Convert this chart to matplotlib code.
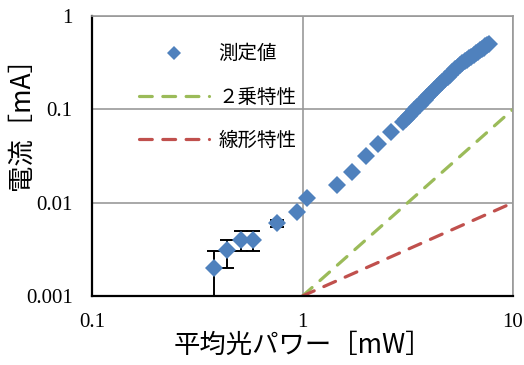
import numpy as np
import matplotlib
matplotlib.use("Agg")
import matplotlib.pyplot as plt

plt.rcParams['font.family'] = ['Liberation Serif', 'Noto Sans CJK JP', 'DejaVu Sans']

# measured values (power [mW], current [mA])
power = [0.38, 0.44, 0.51, 0.585, 0.76, 0.94, 1.05, 1.46, 1.71, 2.0, 2.29, 2.63,
         3.0, 3.1, 3.2, 3.3, 3.4, 3.5, 3.6, 3.7, 3.8, 3.9, 4.0, 4.1, 4.2,
         4.35, 4.5, 4.6, 4.75, 4.9, 5.0, 5.15, 5.3, 5.45, 5.6, 5.75, 5.9,
         6.05, 6.2, 6.35, 6.5, 6.65, 6.8, 6.95, 7.1, 7.25, 7.4, 7.55, 7.7]
current = [0.002, 0.0031, 0.004, 0.004, 0.006, 0.008, 0.0111, 0.0154, 0.0211, 0.0316, 0.0425, 0.0575,
           0.0736, 0.0794, 0.0855, 0.0918, 0.0983, 0.105, 0.112, 0.119, 0.127, 0.135, 0.143, 0.151, 0.160,
           0.172, 0.186, 0.195, 0.210, 0.225, 0.236, 0.252, 0.268, 0.286, 0.299, 0.313, 0.326,
           0.340, 0.354, 0.368, 0.383, 0.398, 0.413, 0.428, 0.443, 0.459, 0.475, 0.491, 0.507]
# error bars (first points only)
err_x = [0.38, 0.44, 0.51, 0.585, 0.76]
err_y = [0.002, 0.0031, 0.004, 0.004, 0.006]
err_lo = [0.001, 0.0011, 0.001, 0.001, 0.0005]
err_hi = [0.001, 0.0009, 0.001, 0.001, 0.0005]

# reference characteristics
ref_x = [1, 10]
square_y = [0.001, 0.1]
linear_y = [0.001, 0.01]

blue = '#4f81bd'
green = '#9bbb59'
red = '#c0504d'

fig = plt.figure(figsize=(5.24, 3.65), dpi=100)
ax = fig.add_axes([0.1756, 0.189, 0.8034, 0.767])

ax.errorbar(err_x, err_y, yerr=[err_lo, err_hi], fmt='none', ecolor='black',
            elinewidth=1.4, capsize=5, capthick=1.4, zorder=2)
ax.plot(power, current, 'D', color=blue, ms=9.5, mew=0,
        label='測定値', zorder=3)
ax.plot(ref_x, square_y, color=green, lw=2.3, ls=(0, (4, 3.3)), dash_capstyle='round',
        label='２乗特性', zorder=2.5)
ax.plot(ref_x, linear_y, color=red, lw=2.3, ls=(0, (4, 3.3)), dash_capstyle='round',
        label='線形特性', zorder=2.5)

ax.set_xscale('log')
ax.set_yscale('log')
ax.set_xlim(0.1, 10)
ax.set_ylim(0.001, 1)
ax.set_xticks([0.1, 1, 10])
ax.set_xticklabels(['0.1', '1', '10'])
ax.set_yticks([0.001, 0.01, 0.1, 1])
ax.set_yticklabels(['0.001', '0.01', '0.1', '1'])
ax.minorticks_off()
ax.tick_params(axis='y', length=0, labelsize=15, pad=14)
ax.tick_params(axis='x', length=0, labelsize=15, pad=12)
ax.grid(True, color='#999999', lw=1.2)
ax.set_axisbelow(True)

for s in ['top', 'right']:
    ax.spines[s].set_color('#999999')
    ax.spines[s].set_linewidth(1.2)
for s in ['left', 'bottom']:
    ax.spines[s].set_color('black')
    ax.spines[s].set_linewidth(1.6)

ax.set_xlabel('平均光パワー［mW］', fontsize=19, family=['Noto Sans CJK JP'], labelpad=0)
ax.set_ylabel('電流［mA］', fontsize=19, family=['Noto Sans CJK JP'], va='center')
ax.yaxis.set_label_coords(-0.169, 0.64)

leg = ax.legend(loc='upper left', bbox_to_anchor=(0.07, 0.965), frameon=False,
                prop={'family': ['Noto Sans CJK JP'], 'size': 14},
                handlelength=3.6, handletextpad=0.5, labelspacing=1.15, markerscale=0.75)

fig.savefig('out.png', dpi=100)
